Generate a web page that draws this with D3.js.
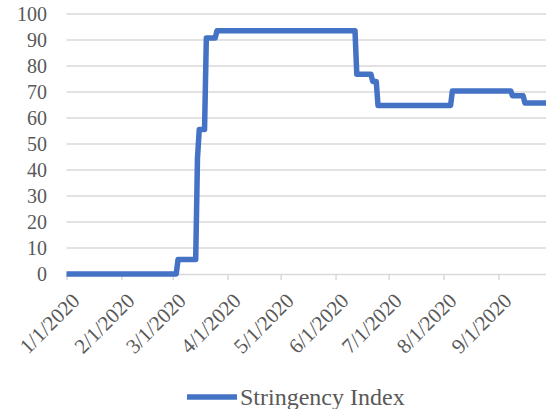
<!DOCTYPE html>
<html>
<head>
<meta charset="utf-8">
<script src="https://cdn.jsdelivr.net/npm/d3@7"></script>
<style>
  html, body { margin: 0; padding: 0; background: #fff; }
  svg { display: block; }
</style>
</head>
<body>
<svg id="chart" width="546" height="409"></svg>
<script>
// Stringency index vertices (date of reading, index value)
const dates = [
  "2020-01-01", "2020-03-03", "2020-03-04", "2020-03-14", "2020-03-15",
  "2020-03-15", "2020-03-16", "2020-03-19", "2020-03-20", "2020-03-25",
  "2020-03-26", "2020-06-12", "2020-06-13", "2020-06-21", "2020-06-22",
  "2020-06-24", "2020-06-25", "2020-08-05", "2020-08-06", "2020-09-08",
  "2020-09-09", "2020-09-15", "2020-09-16", "2020-09-28"
];
const values = [
  0, 0, 5.56, 5.56, 44.44,
  44.44, 55.56, 55.56, 90.74, 90.74,
  93.52, 93.52, 76.85, 76.85, 74.07,
  74.07, 64.81, 64.81, 70.37, 70.37,
  68.52, 68.52, 65.74, 65.74
];
const xTickLabels = ["1/1/2020", "2/1/2020", "3/1/2020", "4/1/2020", "5/1/2020",
                     "6/1/2020", "7/1/2020", "8/1/2020", "9/1/2020"];
const yTicks = [0, 10, 20, 30, 40, 50, 60, 70, 80, 90, 100];
const seriesName = "Stringency Index";

const FONT = "Liberation Serif";
const TEXT_COLOR = "#595959";

const parse = d3.timeParse("%Y-%m-%d");
const tickParse = d3.timeParse("%m/%d/%Y");
const points = dates.map((d, i) => ({ date: parse(d), value: values[i] }));

const svg = d3.select("#chart");
const W = 546;
const plotLeft = 66.5, plotBottom = 274, plotTop = 14;

const x = d3.scaleTime()
  .domain([parse("2020-01-01"), parse("2020-09-30")])
  .range([plotLeft, plotLeft + 273 * 1.77]);
const y = d3.scaleLinear().domain([0, 100]).range([plotBottom, plotTop]);

// horizontal gridlines
svg.append("g")
  .selectAll("line")
  .data(yTicks.filter(v => v > 0))
  .join("line")
  .attr("x1", plotLeft).attr("x2", W)
  .attr("y1", d => y(d)).attr("y2", d => y(d))
  .attr("stroke", "#d9d9d9").attr("stroke-width", 1.5);

// y labels
svg.append("g")
  .selectAll("text")
  .data(yTicks)
  .join("text")
  .attr("x", 47).attr("y", d => y(d))
  .attr("dy", "0.35em")
  .attr("text-anchor", "end")
  .attr("font-family", FONT)
  .attr("font-size", 20)
  .attr("fill", TEXT_COLOR)
  .text(d => d);

// bottom axis
const xAxis = d3.axisBottom(x)
  .tickValues(xTickLabels.map(t => tickParse(t)))
  .tickSize(6)
  .tickFormat((d, i) => xTickLabels[i]);

const gx = svg.append("g")
  .attr("transform", `translate(0,${plotBottom})`)
  .call(xAxis)
  .attr("font-family", FONT);
gx.select(".domain").attr("stroke", "#d9d9d9").attr("stroke-width", 1.5)
  .attr("d", `M${plotLeft},0.5H${W}`);
gx.selectAll(".tick line").attr("stroke", "#d9d9d9").attr("stroke-width", 1.5);
gx.selectAll(".tick text")
  .attr("font-family", FONT)
  .attr("font-size", 21)
  .attr("fill", TEXT_COLOR)
  .attr("text-anchor", "end")
  .attr("dy", null)
  .attr("y", 0)
  .attr("transform", "translate(14,28) rotate(-45)");

// series line
svg.append("path")
  .datum(points)
  .attr("fill", "none")
  .attr("stroke", "#4472c4")
  .attr("stroke-width", 5.5)
  .attr("stroke-linejoin", "round")
  .attr("d", d3.line().x(d => x(d.date)).y(d => y(d.value)));

// legend
const lg = svg.append("g");
lg.append("line")
  .attr("x1", 187).attr("x2", 237).attr("y1", 397).attr("y2", 397)
  .attr("stroke", "#4472c4").attr("stroke-width", 5.5);
lg.append("text")
  .attr("x", 240).attr("y", 405)
  .attr("font-family", FONT)
  .attr("font-size", 24)
  .attr("fill", TEXT_COLOR)
  .text(seriesName);
</script>
</body>
</html>
